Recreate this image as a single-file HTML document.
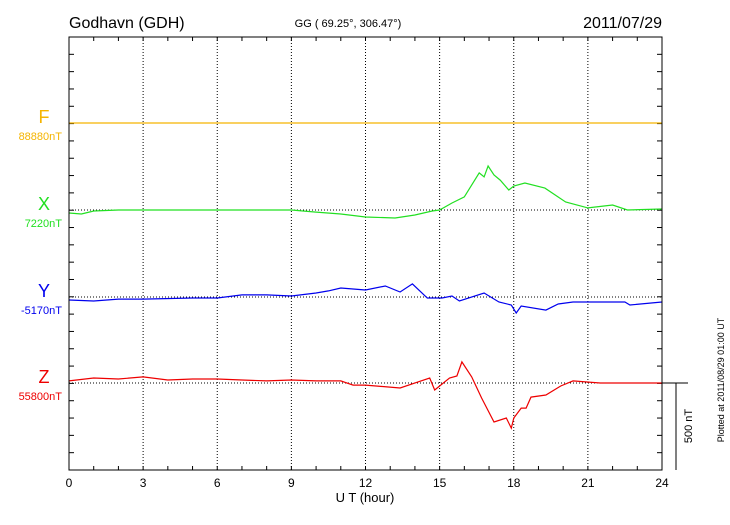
<!DOCTYPE html>
<html><head><meta charset="utf-8"><style>
body{margin:0;background:#fff;}
svg text{font-family:"Liberation Sans",sans-serif;}
</style></head><body>
<svg id="chart" width="730" height="520" xmlns="http://www.w3.org/2000/svg">
<text x="69" y="28" font-size="16">Godhavn (GDH)</text>
<text x="348" y="27" font-size="11" text-anchor="middle">GG ( 69.25°, 306.47°)</text>
<text x="662" y="28" font-size="16" text-anchor="end">2011/07/29</text>
<text x="365" y="502" font-size="13" text-anchor="middle">U T (hour)</text>
<g id="grid"></g>
<g id="series"></g>
<rect x="69" y="37" width="593" height="433" fill="none" stroke="#000" stroke-width="1"/>
<line x1="662" y1="383" x2="688" y2="383" stroke="#000"/>
<line x1="676" y1="383" x2="676" y2="470" stroke="#000"/>
<text x="692" y="426" font-size="11" text-anchor="middle" transform="rotate(-90 692 426)">500 nT</text>
<text x="724" y="380" font-size="9" text-anchor="middle" transform="rotate(-90 724 380)">Plotted at 2011/08/29 01:00 UT</text>
</svg>
<script>
const xTicks=[0,3,6,9,12,15,18,21,24];
const fTimes=[0,24];
const fValues=[0,0];
const xTimes=[0,0.5,1,2,3,6,9,10,11,12,13.2,14,14.7,15,15.5,16,16.6,16.8,16.96,17.2,17.45,17.8,18,18.45,19.26,20.1,21,22,22.6,24];
const xValues=[-17,-23,-6,0,0,0,0,-12,-23,-40,-46,-29,-6,0,40,75,213,190,253,201,172,115,138,155,126,46,12,29,0,6];
const yTimes=[0,1,2,3,5,6,7,8,9,10,10.5,11,11.5,12,12.8,13.4,13.9,14.5,15.1,15.5,15.8,16.8,17.4,17.9,18.1,18.3,19.3,19.8,20.4,22.5,22.7,24];
const yValues=[-17,-23,-12,-12,-6,-6,12,12,6,23,35,52,46,40,63,29,75,-6,-6,6,-23,23,-29,-46,-92,-52,-75,-40,-29,-29,-46,-29];
const zTimes=[0,1,2,3,4,5,6,7,8,9,10,11,11.5,12,13.4,14.6,14.8,15.4,15.7,15.9,16.3,16.7,17.2,17.7,17.9,18.0,18.3,18.5,18.7,19.3,19.9,20.4,21.5,24];
const zValues=[12,29,23,35,17,23,23,17,12,17,12,12,-12,-12,-29,29,-40,29,40,121,35,-86,-224,-201,-259,-201,-144,-144,-81,-69,-17,12,0,0];
const comps=[
 {name:'F',base:'88880nT',t:fTimes,v:fValues,color:'#f5b400',y0:123},
 {name:'X',base:'7220nT',t:xTimes,v:xValues,color:'#22e022',y0:210},
 {name:'Y',base:'-5170nT',t:yTimes,v:yValues,color:'#0000ee',y0:297},
 {name:'Z',base:'55800nT',t:zTimes,v:zValues,color:'#ee0000',y0:383}
];
const X0=69,X1=662,Y0=37,Y1=470;
const NS='http://www.w3.org/2000/svg';
const sx=h=>X0+(X1-X0)*h/24;
const pxPerNT=87/500;
const grid=document.getElementById('grid'),ser=document.getElementById('series'),svg=document.getElementById('chart');
function mk(tag,attrs,parent){const e=document.createElementNS(NS,tag);for(const k in attrs)e.setAttribute(k,attrs[k]);parent.appendChild(e);return e;}
for(let h=0;h<=24;h++){
 const x=sx(h);
 let e=mk('line',{x1:x,y1:Y0,x2:x,y2:Y0+4,stroke:'#000'},grid);
 
 
 e=mk('line',{x1:x,y1:Y1,x2:x,y2:Y1-4,stroke:'#000'},grid);
 
 
}
xTicks.forEach(h=>{
 const x=sx(h);
 if(h>0&&h<24){const g=mk('line',{x1:x,y1:Y0,x2:x,y2:Y1,stroke:'#000','stroke-dasharray':'1,2'},grid);
 
 }
 const t=mk('text',{x:x,y:487,'font-size':12,'text-anchor':'middle'},svg);
 t.textContent=h;
 
 
});
for(let y=Y0+(Y1-Y0)/25;y<Y1-1;y+=(Y1-Y0)/25){
 let e=mk('line',{x1:X0,y1:y,x2:X0+5,y2:y,stroke:'#000'},grid);
 
 
 e=mk('line',{x1:X1,y1:y,x2:X1-5,y2:y,stroke:'#000'},grid);
 
 
}
comps.forEach(c=>{
 const b=mk('line',{x1:X0,y1:c.y0,x2:X1,y2:c.y0,stroke:'#000','stroke-dasharray':'1,2'},grid);
 
 
 const pts=c.t.map((h,i)=>sx(h).toFixed(1)+','+(c.y0-c.v[i]*pxPerNT).toFixed(1)).join(' ');
 const p=mk('polyline',{points:pts,fill:'none',stroke:c.color,'stroke-width':1.2},ser);
 
 
 const l=mk('text',{x:44,y:c.y0-0,'font-size':18,'text-anchor':'middle',fill:c.color},svg);
 l.textContent=c.name;
 
 
 const bl=mk('text',{x:62,y:c.y0+17,'font-size':11,'text-anchor':'end',fill:c.color},svg);
 bl.textContent=c.base;
 
 
});
</script>
</body></html>
